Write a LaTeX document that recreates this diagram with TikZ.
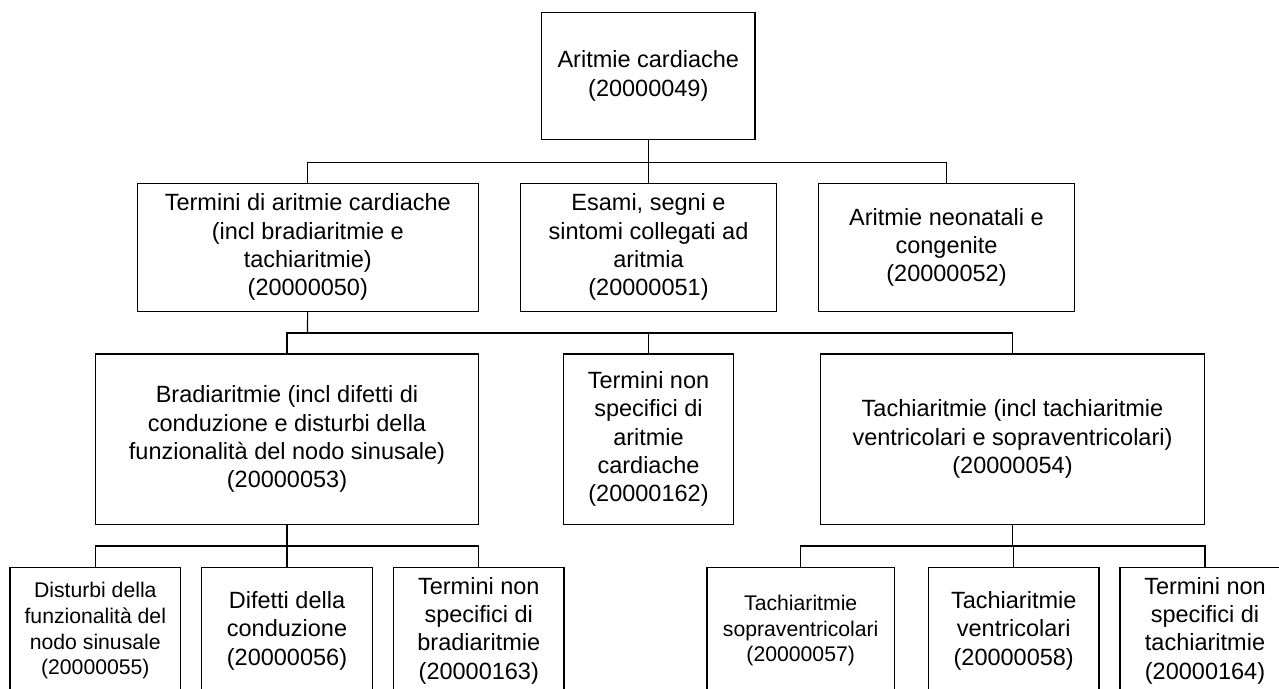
\documentclass[tikz,border=0pt]{standalone}
\usepackage{fontspec}
\setmainfont{Liberation Sans}
\usepackage{tikz}

\begin{document}
\begin{tikzpicture}[x=0.5pt, y=-0.5pt, line width=0.55pt,
    box/.style = {draw, align=center, inner sep=0pt, font=\fontsize{11.75}{14.15}\selectfont,
      execute at begin node={\rule{0pt}{11.4pt}}},
    smallbox/.style = {box, font=\fontsize{10.6}{12.9}\selectfont,
      execute at begin node={\rule{0pt}{10.4pt}}}]
  \clip (0,0) rectangle (1279,689);
  % radice
  \node (root) at (648.3,75.8) [box, minimum width=106.7pt, minimum height=63.5pt] {Aritmie cardiache\\(20000049)};
  % primo livello
  \node (t50) at (307.8,247.3) [box, minimum width=170.5pt, minimum height=64pt] {Termini di aritmie cardiache\\(incl bradiaritmie e\\tachiaritmie)\\(20000050)};
  \node (e51) at (648.5,247.3) [box, minimum width=127.8pt, minimum height=64pt] {Esami, segni e\\sintomi collegati ad\\aritmia\\(20000051)};
  \node (n52) at (946.5,247.3) [box, minimum width=127.8pt, minimum height=64pt] {Aritmie neonatali e\\congenite\\(20000052)};
  % secondo livello
  \node (b53) at (287,439.2) [box, minimum width=191.7pt, minimum height=85.2pt] {Bradiaritmie (incl difetti di\\conduzione e disturbi della\\funzionalità del nodo sinusale)\\(20000053)};
  \node (t162) at (648.5,439.2) [box, minimum width=85.2pt, minimum height=85.2pt] {Termini non\\specifici di\\aritmie\\cardiache\\(20000162)};
  \node (t54) at (1012.5,439.2) [box, minimum width=191.8pt, minimum height=85.2pt] {Tachiaritmie (incl tachiaritmie\\ventricolari e sopraventricolari)\\(20000054)};
  % terzo livello
  \node (d55) at (95.3,630.7) [smallbox, minimum width=85.3pt, minimum height=63.5pt] {Disturbi della\\funzionalità del\\nodo sinusale\\(20000055)};
  \node (d56) at (287,630.7) [box, minimum width=85.3pt, minimum height=63.5pt] {Difetti della\\conduzione\\(20000056)};
  \node (t163) at (478.8,630.7) [box, minimum width=85.2pt, minimum height=63.5pt] {Termini non\\specifici di\\bradiaritmie\\(20000163)};
  \node (t57) at (800.7,630.7) [smallbox, minimum width=93.7pt, minimum height=63.5pt] {Tachiaritmie\\sopraventricolari\\(20000057)};
  \node (t58) at (1013.7,630.7) [box, minimum width=85.3pt, minimum height=63.5pt] {Tachiaritmie\\ventricolari\\(20000058)};
  \node (t164) at (1205,630.7) [box, minimum width=85pt, minimum height=63.5pt] {Termini non\\specifici di\\tachiaritmie\\(20000164)};

  % collegamenti
  \coordinate (j0) at (648.3,162.7);
  \coordinate (j1) at (307.5,333);
  \coordinate (j2) at (287,546);
  \coordinate (j3) at (1012.5,546);
  \draw (root) -- (j0);
  \foreach \c in {t50,e51,n52} \draw (j0) -| (\c);
  \draw (t50) -- (j1);
  \foreach \c in {b53,t162,t54} \draw (j1) -| (\c);
  \draw (b53) -- (j2);
  \foreach \c in {d55,d56,t163} \draw (j2) -| (\c);
  \draw (t54) -- (j3);
  \foreach \c in {t57,t58,t164} \draw (j3) -| (\c);
\end{tikzpicture}
\end{document}
